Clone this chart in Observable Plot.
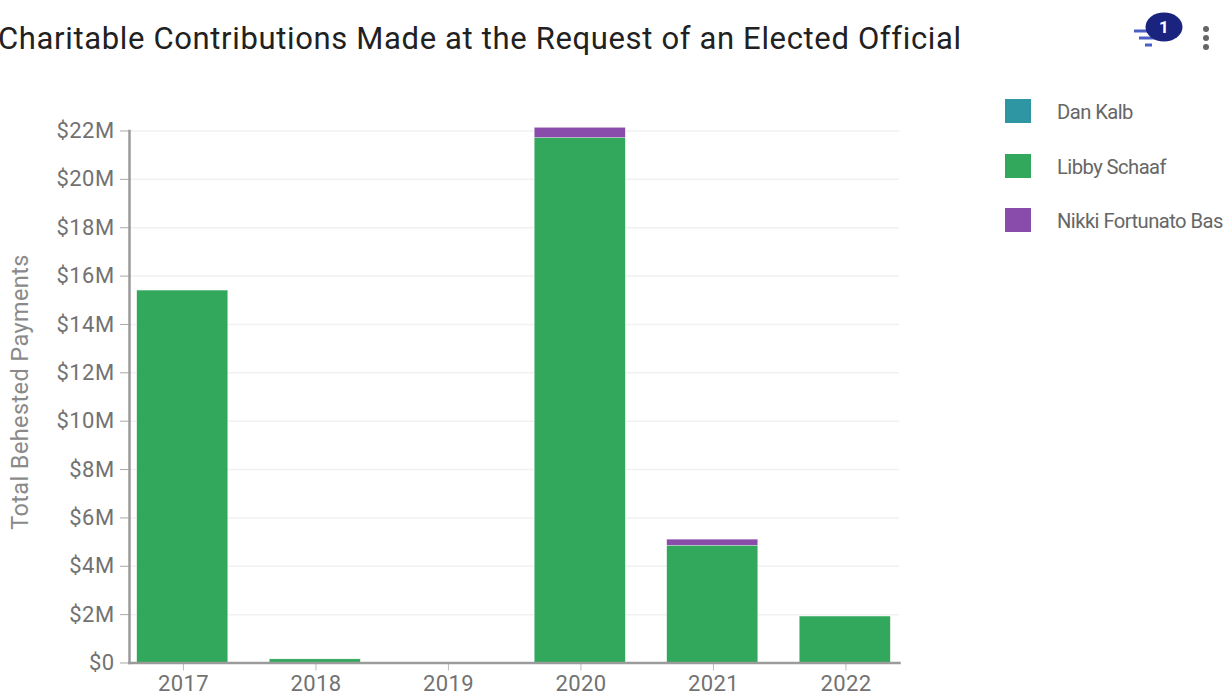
<!DOCTYPE html>
<html>
<head>
<meta charset="utf-8">
<script src="https://cdn.jsdelivr.net/npm/d3@7"></script>
<script src="https://cdn.jsdelivr.net/npm/@observablehq/plot@0.6"></script>
<style>
  html, body { margin: 0; padding: 0; background: #fff; overflow: hidden; }
  #page { position: relative; width: 1225px; height: 692px; font-family: Roboto, sans-serif; overflow: hidden; }
  #page svg { display: block; }
  #title { position: absolute; left: -2px; top: 21px; font-size: 31px; line-height: 36px; letter-spacing: 0.65px; color: #212121; white-space: nowrap; }
  #legend { position: absolute; left: 1005px; top: 99px; }
  .row { position: absolute; left: 0; height: 24px; white-space: nowrap; }
  .swatch { position: absolute; left: 0; top: 0; width: 26px; height: 24px; }
  .name { position: absolute; left: 52px; top: 1px; line-height: 24px; font-size: 20.2px; letter-spacing: -0.55px; color: #666; }
  #tools { position: absolute; left: 1130px; top: 8px; }
</style>
</head>
<body>
<div id="page">
  <div id="title">Charitable Contributions Made at the Request of an Elected Official</div>
  <svg id="tools" width="95" height="50" viewBox="0 0 95 50">
    <g stroke="#4a5fc4" stroke-width="3">
      <line x1="4" x2="24" y1="23" y2="23"/>
      <line x1="9" x2="29" y1="30" y2="30"/>
      <line x1="15" x2="22" y1="37" y2="37"/>
    </g>
    <ellipse cx="34" cy="19" rx="18.5" ry="14.5" fill="#1a237e"/>
    <text x="34" y="25" text-anchor="middle" font-family="Roboto, sans-serif" font-weight="700" font-size="17" fill="#fff">1</text>
    <g fill="#666">
      <circle cx="76" cy="21" r="3"/>
      <circle cx="76" cy="30" r="3"/>
      <circle cx="76" cy="39" r="3"/>
    </g>
  </svg>
  <div id="legend"></div>
</div>
<script>
const years = ["2017", "2018", "2019", "2020", "2021", "2022"];
const officials = ["Dan Kalb", "Libby Schaaf", "Nikki Fortunato Bas"];
const officialColors = ["#2e96a3", "#31a85b", "#8a4caa"];

// Behested payments per year, in millions of dollars
const danKalb = [0, 0, 0, 0, 0, 0];
const libbySchaaf = [15.4, 0.15, 0, 21.71, 4.85, 1.92];
const nikkiBas = [0, 0, 0, 0.42, 0.25, 0];

const yTicks = [0, 2, 4, 6, 8, 10, 12, 14, 16, 18, 20, 22];

const rows = [danKalb, libbySchaaf, nikkiBas].flatMap((values, s) =>
  values.map((value, i) => ({year: years[i], official: officials[s], value}))
);

const textColor = "#727272";

const chart = Plot.plot({
  width: 1225,
  height: 692,
  marginTop: 130.5,
  marginBottom: 29.5,
  marginLeft: 129,
  marginRight: 326,
  style: {fontFamily: "Roboto, sans-serif", fontSize: "22px", letterSpacing: "0.4px", background: "transparent", overflow: "visible"},
  x: {type: "band", domain: years, range: [116, 911], paddingInner: 0.313, paddingOuter: 0.1565, round: false},
  y: {domain: [0, 22], nice: false},
  color: {domain: officials, range: officialColors},
  marks: [
    Plot.gridY(yTicks, {stroke: "#f1f1f1", strokeOpacity: 1, strokeWidth: 1.5}),
    Plot.barY(rows, {
      x: "year",
      y: "value",
      fill: "official",
      order: officials,
      stroke: "#fff",
      strokeOpacity: 0.6,
      strokeWidth: 0.5
    }),
    Plot.axisY(yTicks, {
      tickFormat: d => `$${d}${d ? "M" : ""}`,
      tickSize: 9,
      tickPadding: 6,
      stroke: "#a8a8a8",
      fill: textColor,
      label: null,
      tickRotate: 0
    }),
    Plot.axisX(years, {
      tickSize: 8,
      tickPadding: 4,
      dx: 0.7,
      stroke: "#bdbdbd",
      fill: textColor,
      label: null
    }),
    Plot.text(["Total Behested Payments"], {
      frameAnchor: "left",
      textAnchor: "middle",
      rotate: -90,
      dx: -109,
      dy: -5,
      fontSize: 23.5,
      fill: "#8a8a8a"
    }),
    Plot.frame({anchor: "left", stroke: "#9b9b9b", strokeWidth: 2.5}),
    Plot.frame({anchor: "bottom", stroke: "#9b9b9b", strokeWidth: 2.5})
  ]
});
document.getElementById("page").prepend(chart);

// Legend column to the right of the plot
const legend = document.getElementById("legend");
officials.forEach((name, i) => {
  const row = document.createElement("div");
  row.className = "row";
  row.style.top = `${i * 54.5}px`;
  const swatch = document.createElement("div");
  swatch.className = "swatch";
  swatch.style.background = officialColors[i];
  const label = document.createElement("div");
  label.className = "name";
  label.textContent = name;
  row.append(swatch, label);
  legend.append(row);
});
</script>
</body>
</html>
